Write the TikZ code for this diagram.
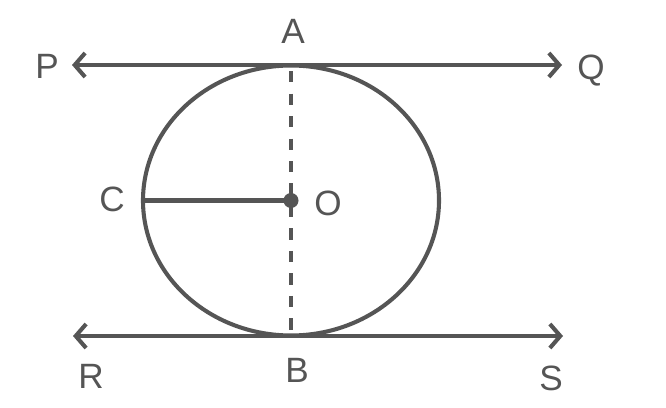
\documentclass[tikz,border=0pt]{standalone}
\usepackage{fontspec}
\setmainfont{Liberation Sans}
\usetikzlibrary{arrows.meta}
\definecolor{inkgray}{RGB}{85,85,85}

\begin{document}
\begin{tikzpicture}[x=0.025cm,y=-0.025cm,
	label node/.style={text=inkgray,font=\fontsize{25}{29}\selectfont,inner sep=0pt},
	tangent/.style={draw=inkgray,line width=2.9pt},
	>={Straight Barb[length=2.6mm,width=6mm]}]
	\useasboundingbox (0,0) rectangle (666,408);
	% points of the figure
	\coordinate (O) at (291,200.5);
	\coordinate (A) at (291,65);
	\coordinate (B) at (291,336);
	\coordinate (C) at (143,200.5);
	\coordinate (P) at (72,65);
	\coordinate (Q) at (562,65);
	\coordinate (R) at (73,336);
	\coordinate (S) at (563,336);
	
	\draw[tangent] (O) ellipse [x radius=148, y radius=135];
	\draw[tangent,<->] (P) -- (Q);
	\draw[tangent,<->] (R) -- (S);
	\draw[draw=inkgray,line width=2.2pt,dash pattern=on 8 off 8] ([yshift=-0.15cm]A) -- (B);
	\draw[tangent] (C) -- (O);
	\fill[inkgray] (O) circle [radius=7.5];
	
	\node[label node] (lA) at (293,31) {A};
	\node[label node] (lB) at (297,370) {B};
	\node[label node] (lC) at (112,199) {C};
	\node[label node] (lO) at (328,203) {O};
	\node[label node] (lP) at (47,66) {P};
	\node[label node] (lQ) at (591,71) {Q};
	\node[label node] (lR) at (91,376) {R};
	\node[label node] (lS) at (551,378) {S};
\end{tikzpicture}
\end{document}
